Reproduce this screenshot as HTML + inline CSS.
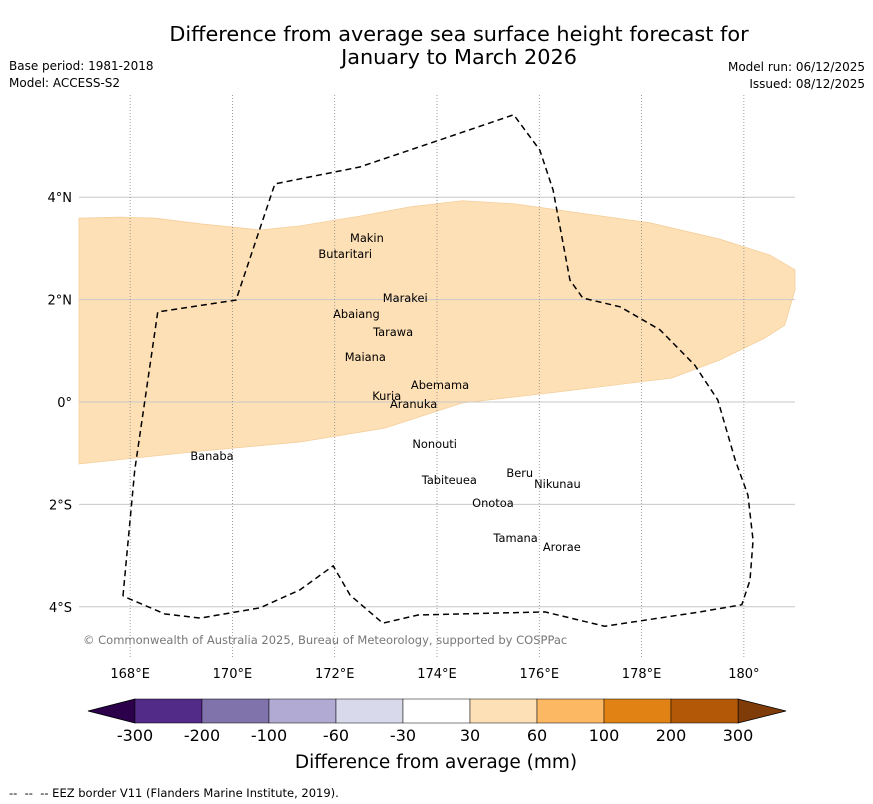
<!DOCTYPE html>
<html><head><meta charset="utf-8"><style>
body{margin:0;background:#fff;font-family:"DejaVu Sans","Liberation Sans",sans-serif;}
svg{display:block}
</style></head><body>
<svg id="c" width="873" height="804" xmlns="http://www.w3.org/2000/svg" font-family="DejaVu Sans, Liberation Sans, sans-serif">
<text x="459" y="41" font-size="20.8" text-anchor="middle">Difference from average sea surface height forecast for</text>
<text x="459" y="64" font-size="20.8" text-anchor="middle">January to March 2026</text>
<text x="9" y="70" font-size="12">Base period: 1981-2018</text>
<text x="9" y="87" font-size="12">Model: ACCESS-S2</text>
<text x="865" y="71" font-size="12" text-anchor="end">Model run: 06/12/2025</text>
<text x="865" y="88" font-size="12" text-anchor="end">Issued: 08/12/2025</text>
<g id="map"></g>
<g id="cb"></g>
<text x="436" y="768" font-size="18.5" text-anchor="middle">Difference from average (mm)</text>
<text x="9" y="797" font-size="11.5" xml:space="preserve">--  --  -- EEZ border V11 (Flanders Marine Institute, 2019).</text>
</svg>
<script>
const lonTicks=[168,170,172,174,176,178,180];
const lonLabels=["168°E","170°E","172°E","174°E","176°E","178°E","180°"];
const latTicks=[4,2,0,-2,-4];
const latLabels=["4°N","2°N","0°","2°S","4°S"];
const anomalyLon=[167,167.8,168.49,169.37,170.54,171.32,172.49,173.47,174.49,175.52,176.79,178.16,179.53,180.51,181,181,180.8,180.41,179.53,178.59,176.4,174.49,172.98,171.32,169.37,167];
const anomalyLat=[3.59,3.61,3.59,3.48,3.36,3.44,3.63,3.81,3.93,3.87,3.69,3.5,3.18,2.87,2.58,2.19,1.5,1.25,0.82,0.47,0.2,-0.02,-0.51,-0.78,-0.96,-1.21];
const eezLon=[167.86,168.09,168.54,170.07,170.83,172.49,174.06,175.5,176.01,176.27,176.6,176.85,177.58,178.36,179.04,179.49,179.83,180.08,180.18,180.12,179.96,179.14,177.28,176.11,173.63,172.94,172.3,171.97,171.32,170.54,169.37,168.68,167.86];
const eezLat=[-3.79,-1.33,1.76,1.99,4.26,4.59,5.12,5.61,4.92,4.14,2.38,2.03,1.86,1.41,0.72,0.04,-1.13,-1.82,-2.7,-3.48,-3.96,-4.1,-4.38,-4.1,-4.16,-4.32,-3.77,-3.2,-3.67,-4.02,-4.22,-4.14,-3.79];
const islandNames=["Makin","Butaritari","Marakei","Abaiang","Tarawa","Maiana","Abemama","Kuria","Aranuka","Nonouti","Tabiteuea","Beru","Nikunau","Onotoa","Tamana","Arorae","Banaba"];
const islandLon=[172.96,172.73,172.94,172.88,172.75,173.0,173.49,173.3,173.08,174.39,174.78,175.88,175.9,175.5,175.97,176.07,169.6];
const islandLat=[3.125,2.81,1.95,1.64,1.29,0.8,0.25,0.04,-0.12,-0.9,-1.6,-1.46,-1.68,-2.05,-2.73,-2.91,-1.13];
const islandAnchor=["end","end","start","end","start","end","start","end","start","end","end","end","start","end","end","start","middle"];
const cbLabels=["-300","-200","-100","-60","-30","30","60","100","200","300"];
const cbColors=["#522a87","#8072ab","#b1aad2","#d8d9eb","#ffffff","#fee0b6","#fdb863","#e08214","#b35806"];
const NS="http://www.w3.org/2000/svg";
const X0=79,X1=795,Y0=95,Y1=658;
const x=lon=>X0+(lon-167)*(X1-X0)/14;
const y=lat=>402-lat*51.2;
function mk(t,a,p){const e=document.createElementNS(NS,t);for(const k in a)e.setAttribute(k,a[k]);p.appendChild(e);return e;}
const map=document.getElementById('map');
const poly=mk('polygon',{points:anomalyLon.map((l,i)=>x(l)+','+y(anomalyLat[i])).join(' '),fill:'#fee0b6',stroke:'#f5cf9c','stroke-width':0.8},map);


latTicks.forEach((t,i)=>{
 const l=mk('line',{x1:X0,x2:X1,y1:y(t),y2:y(t),stroke:'#c8c8c8','stroke-width':1},map);
 
 
 const tx=mk('text',{x:72,y:y(t)+5,'font-size':13,'text-anchor':'end'},map);tx.textContent=latLabels[i];
 
 
});
lonTicks.forEach((t,i)=>{
 const l=mk('line',{x1:x(t),x2:x(t),y1:Y0,y2:Y1,stroke:'#888','stroke-width':0.8,'stroke-dasharray':'1,2'},map);
 
 
 const tx=mk('text',{x:x(t),y:678,'font-size':13,'text-anchor':'middle'},map);tx.textContent=lonLabels[i];
 
 
});
const eez=mk('polyline',{points:eezLon.map((l,i)=>x(l)+','+y(eezLat[i])).join(' '),fill:'none',stroke:'#000','stroke-width':1.5,'stroke-dasharray':'6,4'},map);


islandNames.forEach((n,i)=>{
 const tx=mk('text',{x:x(islandLon[i]),y:y(islandLat[i]),'font-size':11.4,'text-anchor':islandAnchor[i]},map);tx.textContent=n;
 
 
});
const cr=mk('text',{x:83,y:644,'font-size':11.5,fill:'#777'},map);cr.textContent="© Commonwealth of Australia 2025, Bureau of Meteorology, supported by COSPPac";


const cb=document.getElementById('cb');
const B0=135,B1=738,CY0=699,CY1=723,bw=(B1-B0)/cbColors.length;
const lt=mk('polygon',{points:`88,711 ${B0},${CY0} ${B0},${CY1}`,fill:'#2d004b',stroke:'#000','stroke-width':0.8},cb);


const rt=mk('polygon',{points:`786,711 ${B1},${CY0} ${B1},${CY1}`,fill:'#7f3b08',stroke:'#000','stroke-width':0.8},cb);


cbColors.forEach((c,i)=>{
 const r=mk('rect',{x:B0+i*bw,y:CY0,width:bw,height:CY1-CY0,fill:c,stroke:'#000','stroke-width':0.5},cb);
 
 
});
cbLabels.forEach((s,i)=>{
 const tx=mk('text',{x:B0+i*bw,y:741,'font-size':16,'text-anchor':'middle'},cb);tx.textContent=s;
 
 
});
</script>
</body></html>
